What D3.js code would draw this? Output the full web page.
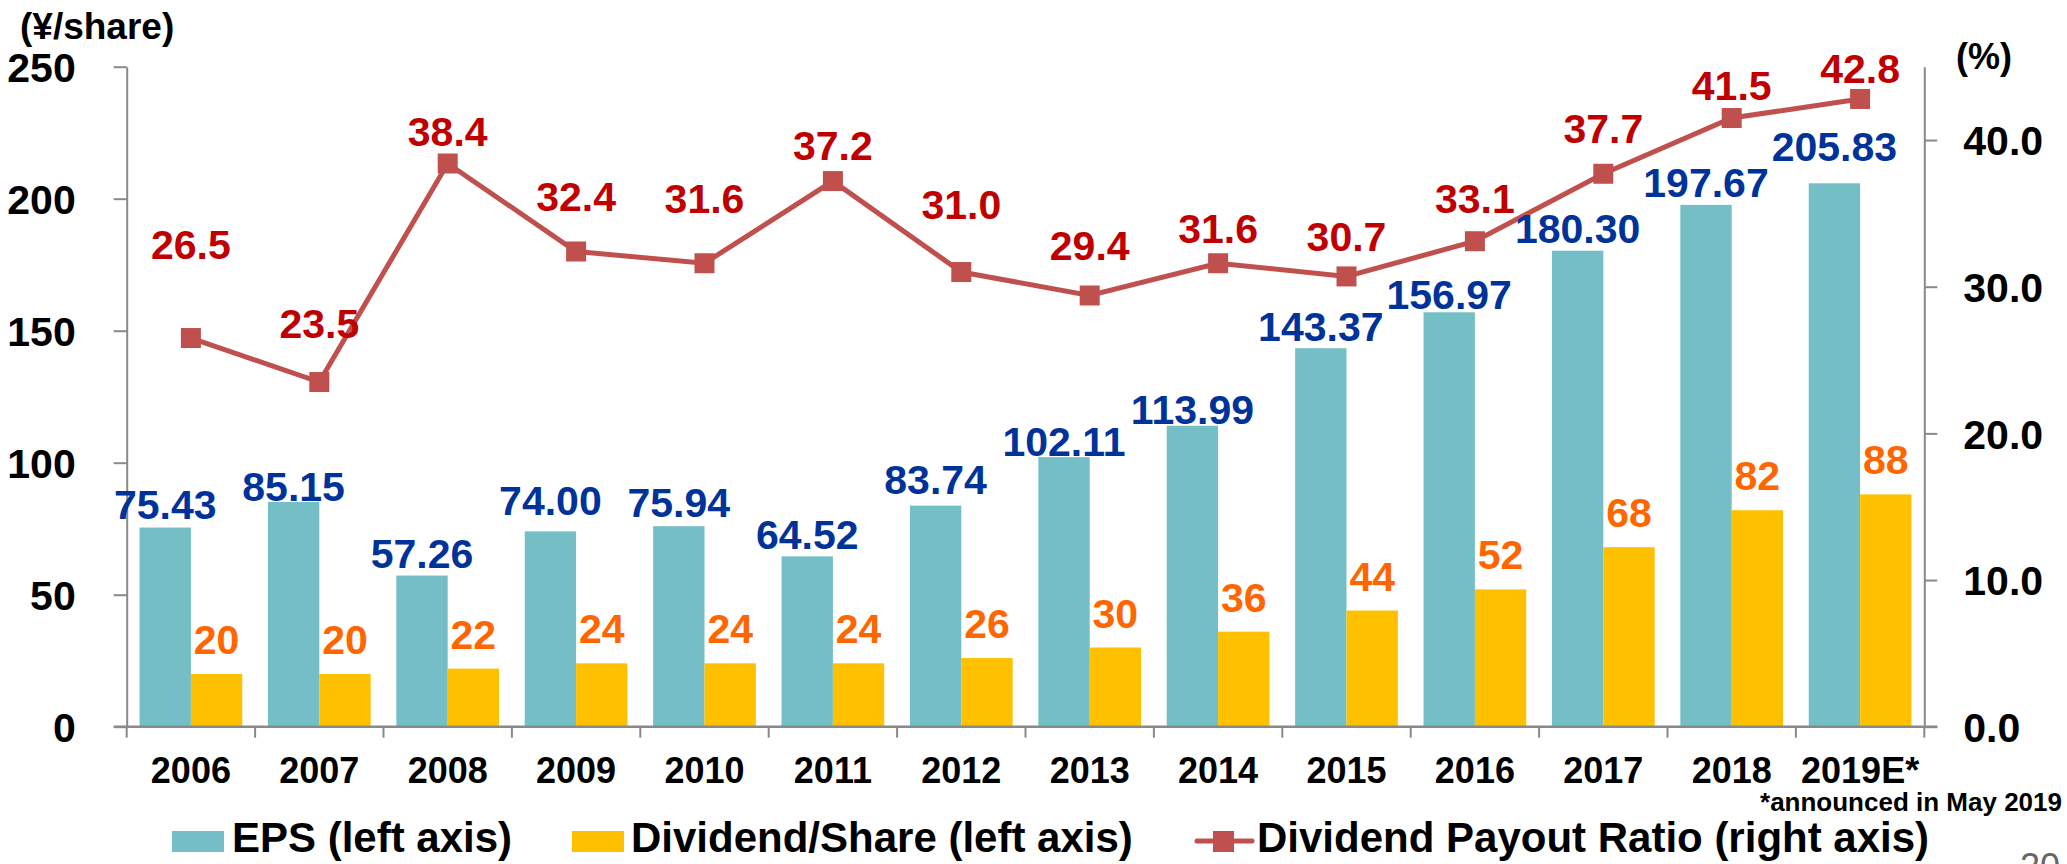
<!DOCTYPE html>
<html>
<head>
<meta charset="utf-8">
<script src="https://cdn.jsdelivr.net/npm/d3@7"></script>
<style>
  html, body { margin: 0; padding: 0; background: #fff; }
  svg { display: block; font-family: "Liberation Sans", Arial, sans-serif; font-weight: bold; }
</style>
</head>
<body>
<svg id="chart" width="2067" height="864"></svg>
<script>
// data
const years = ["2006", "2007", "2008", "2009", "2010", "2011", "2012", "2013", "2014", "2015", "2016", "2017", "2018", "2019E*"];
const eps = [75.43, 85.15, 57.26, 74.00, 75.94, 64.52, 83.74, 102.11, 113.99, 143.37, 156.97, 180.30, 197.67, 205.83];
const dividend = [20, 20, 22, 24, 24, 24, 26, 30, 36, 44, 52, 68, 82, 88];
const payout = [26.5, 23.5, 38.4, 32.4, 31.6, 37.2, 31.0, 29.4, 31.6, 30.7, 33.1, 37.7, 41.5, 42.8];
const leftTicks = [0, 50, 100, 150, 200, 250];
const rightTicks = [0, 10, 20, 30, 40];

// label nudges (the labels in the original were hand placed)
const epsLabelGap = [9, 1, 8, 16, 9, 7, 12, 1, 2, 7, 3, 8, 8, 22];
const payoutLabelLift = [79, 44, 18, 41, 50, 21, 53, 36, 20, 25, 28, 31, 18, 16];

const colors = { eps: "#73BFC5", div: "#FFC000", line: "#C0504D", axis: "#898989" };

const svg = d3.select("#chart");
const plot = { left: 126.7, right: 1924.3, top: 66.7, bottom: 726.7 };

const x = d3.scaleBand().domain(years).range([plot.left, plot.right]);
const xs = d3.scaleBand().domain(["eps", "div"]).range([0, x.bandwidth()]).paddingOuter(0.25);
const yL = d3.scaleLinear().domain([0, 250]).range([plot.bottom, plot.top]);
const yR = d3.scaleLinear().domain([0, 45]).range([plot.bottom, plot.top]);

// bars
const groups = svg.append("g").selectAll("g")
    .data(years)
    .enter()
    .append("g")
    .attr("transform", d => `translate(${x(d)},0)`);

groups.append("rect")
    .attr("x", xs("eps"))
    .attr("width", xs.bandwidth())
    .attr("y", (d, i) => yL(eps[i]))
    .attr("height", (d, i) => yL(0) - yL(eps[i]))
    .style("fill", colors.eps);

groups.append("rect")
    .attr("x", xs("div"))
    .attr("width", xs.bandwidth())
    .attr("y", (d, i) => yL(dividend[i]))
    .attr("height", (d, i) => yL(0) - yL(dividend[i]))
    .style("fill", colors.div);

// axes
const axisStyle = g => {
    g.select(".domain").style("stroke", colors.axis).style("stroke-width", 2);
    g.selectAll(".tick line").style("stroke", colors.axis).style("stroke-width", 2);
    g.selectAll("text").style("font-family", "Liberation Sans, Arial, sans-serif")
        .style("font-weight", "bold").style("fill", "#000");
};

svg.append("g")
    .attr("transform", `translate(${plot.left},0)`)
    .call(d3.axisLeft(yL).tickValues(leftTicks).tickSize(13).tickSizeOuter(0).tickPadding(38))
    .call(axisStyle)
    .call(g => g.selectAll("text").style("font-size", "41px").attr("dy", "0.36em"));

svg.append("g")
    .attr("transform", `translate(${plot.right},0)`)
    .call(d3.axisRight(yR).tickValues(rightTicks).tickFormat(d3.format(".1f")).tickSize(13).tickSizeOuter(0).tickPadding(26))
    .call(axisStyle)
    .call(g => g.selectAll("text").style("font-size", "41px").attr("dy", "0.36em"));

// bottom axis: baseline + ticks on category boundaries
svg.append("line")
    .attr("x1", plot.left - 13).attr("x2", plot.right + 13)
    .attr("y1", plot.bottom).attr("y2", plot.bottom)
    .style("stroke", colors.axis).style("stroke-width", 2.5);

svg.append("g").selectAll("line")
    .data(years.map(d => x(d)).concat([plot.right]))
    .enter()
    .append("line")
    .attr("x1", d => d).attr("x2", d => d)
    .attr("y1", plot.bottom).attr("y2", plot.bottom + 11)
    .style("stroke", colors.axis).style("stroke-width", 2);

svg.append("g")
    .attr("transform", `translate(0,${plot.bottom})`)
    .call(d3.axisBottom(x).tickSize(0).tickPadding(31))
    .call(g => g.select(".domain").remove())
    .call(axisStyle)
    .call(g => g.selectAll("text").style("font-size", "36px"));

// payout ratio line
const lineGen = d3.line()
    .x((d, i) => x(years[i]) + x.bandwidth() / 2)
    .y(d => yR(d));

svg.append("path")
    .datum(payout)
    .attr("d", lineGen)
    .style("fill", "none")
    .style("stroke", colors.line)
    .style("stroke-width", 5);

svg.append("g").selectAll("rect")
    .data(payout)
    .enter()
    .append("rect")
    .attr("x", (d, i) => x(years[i]) + x.bandwidth() / 2 - 10)
    .attr("y", d => yR(d) - 10)
    .attr("width", 20).attr("height", 20)
    .style("fill", colors.line);

// data labels
const labels = svg.append("g").style("font-size", "41px").attr("text-anchor", "middle");

labels.selectAll(".eps-label")
    .data(eps)
    .enter()
    .append("text")
    .attr("class", "eps-label")
    .attr("x", (d, i) => x(years[i]) + xs("eps") + xs.bandwidth() / 2)
    .attr("y", (d, i) => yL(d) - epsLabelGap[i])
    .style("fill", "#003399")
    .text(d => d.toFixed(2));

labels.selectAll(".div-label")
    .data(dividend)
    .enter()
    .append("text")
    .attr("class", "div-label")
    .attr("x", (d, i) => x(years[i]) + xs("div") + xs.bandwidth() / 2)
    .attr("y", d => yL(d) - 20)
    .style("fill", "#FF6600")
    .text(d => d);

labels.selectAll(".payout-label")
    .data(payout)
    .enter()
    .append("text")
    .attr("class", "payout-label")
    .attr("x", (d, i) => x(years[i]) + x.bandwidth() / 2)
    .attr("y", (d, i) => yR(d) - payoutLabelLift[i])
    .style("fill", "#C00000")
    .text(d => d.toFixed(1));

// unit captions
svg.append("text").attr("x", 20).attr("y", 39)
    .style("font-size", "37px").text("(¥/share)");
svg.append("text").attr("x", 1956).attr("y", 69)
    .style("font-size", "36px").text("(%)");

// footnote
svg.append("text").attr("x", 2062).attr("y", 811)
    .attr("text-anchor", "end")
    .style("font-size", "26px")
    .text("*announced in May 2019");

// legend
const legend = svg.append("g").style("font-size", "42px");
legend.append("rect").attr("x", 172).attr("y", 831).attr("width", 52).attr("height", 21).style("fill", colors.eps);
legend.append("text").attr("x", 232).attr("y", 852).text("EPS (left axis)");
legend.append("rect").attr("x", 572).attr("y", 831).attr("width", 52).attr("height", 21).style("fill", colors.div);
legend.append("text").attr("x", 631).attr("y", 852).text("Dividend/Share (left axis)");
legend.append("line").attr("x1", 1197).attr("x2", 1252).attr("y1", 841).attr("y2", 841)
    .style("stroke", colors.line).style("stroke-width", 5).style("stroke-linecap", "round");
legend.append("rect").attr("x", 1213).attr("y", 831).attr("width", 21).attr("height", 21).style("fill", colors.line);
legend.append("text").attr("x", 1257).attr("y", 852).text("Dividend Payout Ratio (right axis)");

// page number, cut off by the bottom edge
svg.append("text").attr("x", 2020).attr("y", 879)
    .style("font-size", "36px").style("font-weight", "normal").style("fill", "#666")
    .text("20");
</script>
</body>
</html>
